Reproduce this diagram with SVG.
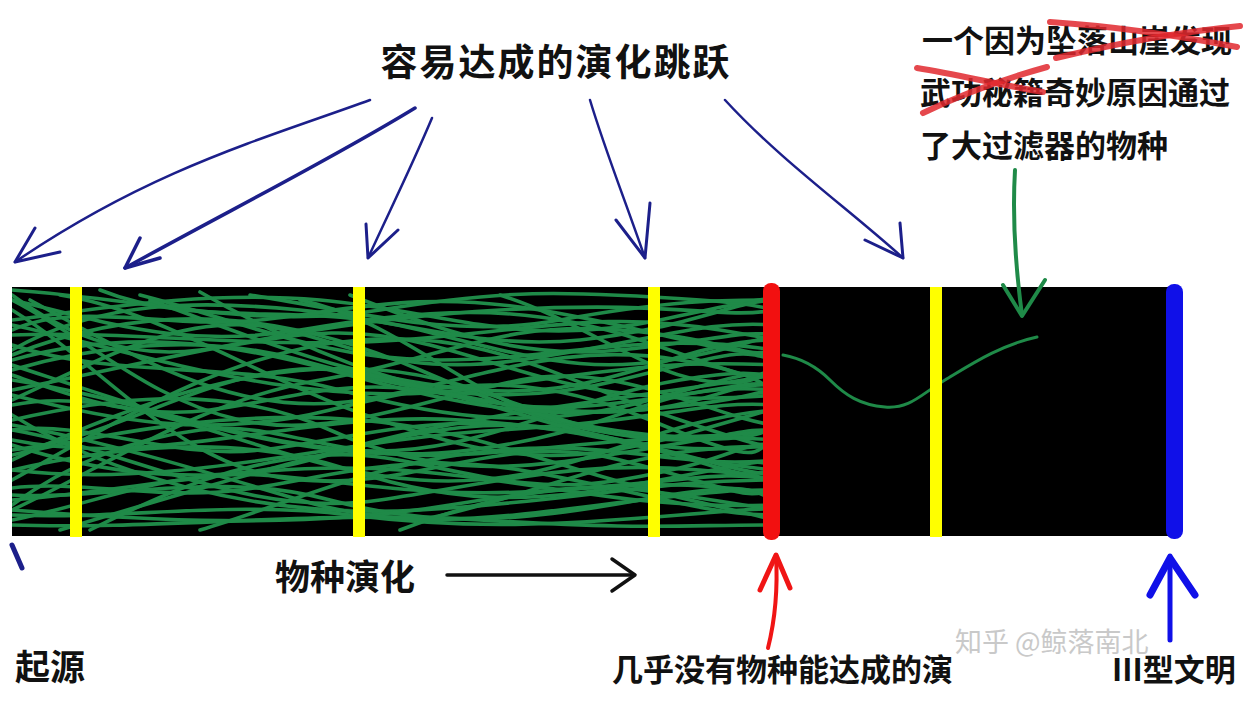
<svg xmlns="http://www.w3.org/2000/svg" width="1251" height="702" viewBox="0 0 1251 702">
<style>
.t{font-family:"Noto Sans CJK SC","Noto Sans",sans-serif;font-weight:bold;fill:#111}
.blue{fill:none;stroke:#1c1f8a;stroke-linecap:round;stroke-linejoin:round}
.g path{fill:none;stroke:#1f8a48;stroke-width:3.6;stroke-linecap:round}
.cross{fill:none;stroke:#e0282e;stroke-width:6;stroke-linecap:round;opacity:0.85}
</style>
<defs>
<clipPath id="bar"><rect x="12" y="287" width="760" height="249"/></clipPath>
</defs>
<rect width="1251" height="702" fill="#fff"/>

<g id="bar-node">
<rect x="12" y="287" width="1166" height="249" fill="#000"/>
<g class="g" clip-path="url(#bar)">
<path d="M12,300 C100,320 180,350 300,330 S520,300 640,340 S740,380 775,370"/>
<path d="M12,320 C90,310 200,290 320,300 S520,350 660,320 S760,300 775,305"/>
<path d="M12,345 C120,380 230,360 340,390 S540,430 650,400 S750,370 775,380"/>
<path d="M12,370 C80,350 190,330 300,360 S500,410 620,380 S740,350 775,360"/>
<path d="M12,395 C110,420 210,440 330,410 S530,370 650,420 S750,450 775,440"/>
<path d="M12,420 C100,400 220,380 330,430 S520,470 640,450 S740,430 775,430"/>
<path d="M12,445 C90,470 200,490 310,460 S500,410 620,440 S730,480 775,470"/>
<path d="M12,470 C100,450 230,430 350,470 S550,500 660,480 S750,460 775,465"/>
<path d="M12,495 C110,500 220,470 330,500 S530,520 640,500 S750,490 775,500"/>
<path d="M12,515 C120,520 230,500 350,515 S560,525 680,515 S760,510 775,512"/>
<path d="M12,290 C150,300 260,330 380,310 S560,290 700,300 S770,330 775,330"/>
<path d="M30,300 C140,360 240,420 360,400 S560,340 680,360 S760,400 775,400"/>
<path d="M12,310 C110,370 180,470 300,480 S500,430 620,460 S740,500 775,490"/>
<path d="M12,510 C100,470 200,400 320,380 S500,320 620,330 S740,360 775,350"/>
<path d="M12,480 C120,420 230,350 360,340 S560,380 680,420 S760,440 775,450"/>
<path d="M60,295 C160,310 260,380 380,420 S560,470 700,430 S765,410 775,415"/>
<path d="M12,430 C130,450 250,520 380,500 S580,460 700,470 S770,490 775,485"/>
<path d="M100,290 C200,330 300,300 420,330 S600,380 720,350 S770,320 775,320"/>
<path d="M12,380 C140,400 230,440 350,450 S560,400 680,380 S765,390 775,395"/>
<path d="M12,455 C120,430 240,410 360,420 S560,470 690,500 S770,520 775,520"/>
<path d="M12,335 C130,330 260,350 400,340 S600,310 720,330 S770,345 775,345"/>
<path d="M140,295 C240,320 320,360 440,360 S640,330 775,350"/>
<path d="M12,500 C140,490 260,460 400,470 S620,510 775,505"/>
<path d="M12,355 C150,300 280,310 420,370 S620,450 775,430"/>
<path d="M12,405 C140,380 270,470 420,480 S640,420 775,410"/>
<path d="M200,530 C300,500 380,460 500,450 S680,470 775,460"/>
<path d="M150,300 C260,340 350,380 480,390 S680,340 775,340"/>
<path d="M12,440 C160,470 300,410 460,420 S660,460 775,470"/>
<path d="M12,365 C150,410 310,470 470,450 S650,380 775,390"/>
<path d="M12,525 C160,530 320,510 480,520 S680,525 775,525"/>
<path d="M250,295 C350,310 450,340 560,320 S720,300 775,300"/>
<path d="M12,415 C100,470 250,520 420,510 S650,480 775,480"/>
<path d="M12,300 C90,340 150,400 240,420 S420,400 520,380 S720,420 775,425"/>
<path d="M350,295 C440,330 520,360 620,350 S740,330 775,335"/>
<path d="M12,470 C180,490 330,440 500,430 S700,400 775,405"/>
<path d="M60,530 C160,500 260,470 380,440 S620,400 775,375"/>
<path d="M12,390 C160,360 320,320 500,310 S720,320 775,310"/>
<path d="M12,510 C140,520 300,530 450,505 S700,480 775,495"/>
<path d="M400,530 C480,500 560,480 640,490 S740,505 775,510"/>
<path d="M12,325 C130,350 300,410 460,390 S660,360 775,365"/>
<path d="M12,460 C140,400 260,360 380,370 S560,440 680,440 S760,420 775,420"/>
<path d="M200,292 C300,350 420,400 560,410 S720,380 775,385"/>
<path d="M12,350 C100,300 200,300 300,310 S480,350 580,340 S740,300 775,300"/>
<path d="M500,295 C580,320 640,370 700,380 S760,370 775,372"/>
<path d="M420,520 C520,500 600,460 700,450 S765,455 775,455"/>
<path d="M12,295 C60,330 120,360 200,350 S330,320 430,345 S600,410 775,395"/>
<path d="M12,488 C80,480 160,500 240,490 S400,450 520,470 S700,515 775,515"/>
<path d="M12,375 C70,395 130,420 210,410 S360,370 470,400 S650,460 775,445"/>
<path d="M12,430 C90,420 170,460 260,450 S430,410 560,430 S720,470 775,475"/>
<path d="M12,520 C90,505 170,470 260,475 S420,500 560,490 S720,470 775,480"/>
<path d="M12,330 C80,300 170,330 260,320 S420,290 540,310 S700,350 775,355"/>
<path d="M90,530 C170,490 240,460 330,455 S500,500 620,480 S740,440 775,445"/>
<path d="M12,400 C100,360 170,320 250,325 S380,380 520,360 S700,320 775,325"/>
<path d="M12,450 C110,440 190,380 290,370 S460,420 600,405 S740,380 775,385"/>
<path d="M12,505 C60,470 120,440 200,430 S330,460 450,455 S650,430 775,440"/>
<path d="M300,300 C400,320 470,400 560,420 S700,440 775,430"/>
<path d="M12,360 C120,330 220,340 330,370 S520,420 640,410 S750,390 775,392"/>
<path d="M12,425 C100,440 200,470 300,500 S480,520 600,505 S740,490 775,490"/>
</g>
<path d="M783,355 C800,358 815,365 830,380 S860,405 885,407 S920,395 945,380 S1000,345 1037,337" fill="none" stroke="#1f8a48" stroke-width="3" stroke-linecap="round"/>
<rect x="70" y="287" width="12" height="250" fill="#ffff00"/>
<rect x="353" y="287" width="12" height="250" fill="#ffff00"/>
<rect x="648" y="287" width="12" height="250" fill="#ffff00"/>
<rect x="930" y="287" width="12" height="250" fill="#ffff00"/>
<rect x="763" y="283" width="17" height="257" rx="8" fill="#f21010"/>
<rect x="1166" y="284" width="17" height="255" rx="8" fill="#1010e8"/>
</g>

<g id="title">
<text class="t" x="556" y="76" font-size="37" text-anchor="middle" letter-spacing="2">容易达成的演化跳跃</text>
</g>

<g id="note">
<text class="t" x="922" y="52" font-size="31">一个因为坠落山崖发现</text>
<text class="t" x="920" y="104" font-size="31">武功秘籍奇妙原因通过</text>
<text class="t" x="920" y="157" font-size="31">了大过滤器的物种</text>
<path class="cross" d="M1056,58 C1110,45 1180,32 1240,26"/>
<path class="cross" d="M1050,22 C1110,26 1180,36 1237,47"/>
<path class="cross" d="M917,68 C960,75 1000,85 1043,92"/>
<path class="cross" d="M923,113 C960,95 1000,80 1047,67"/>
</g>

<g id="labels">
<text class="t" x="275" y="590" font-size="35">物种演化</text>
<text class="t" x="15" y="680" font-size="35">起源</text>
<text class="t" x="612" y="681" font-size="31">几乎没有物种能达成的演</text>
<text class="t" x="1112" y="681" font-size="31">III型文明</text>
<text x="955" y="652" font-size="27" font-family="Noto Sans CJK SC,sans-serif" fill="#c9c9c9">知乎 @鲸落南北</text>
</g>

<g id="connectors">
<path class="blue" stroke-width="2.5" d="M370,100 C260,140 150,170 15,262"/>
<path class="blue" stroke-width="3" d="M35,228 L15,262 L60,252"/>
<path class="blue" stroke-width="3.5" d="M415,108 C330,160 230,210 125,268"/>
<path class="blue" stroke-width="3.5" d="M140,238 L125,268 L160,258"/>
<path class="blue" stroke-width="2.5" d="M432,118 C410,170 390,210 368,258"/>
<path class="blue" stroke-width="3" d="M366,224 L368,258 L398,230"/>
<path class="blue" stroke-width="2.5" d="M590,100 C605,150 625,200 645,258"/>
<path class="blue" stroke-width="3" d="M616,220 L645,258 L650,203"/>
<path class="blue" stroke-width="2.5" d="M725,100 C780,160 850,210 903,258"/>
<path class="blue" stroke-width="3" d="M865,240 L903,258 L900,223"/>
<path class="blue" stroke-width="5" d="M12,545 L22,568"/>
<path fill="none" stroke="#1f8a48" stroke-width="4" stroke-linecap="round" stroke-linejoin="round" d="M1015,170 C1012,220 1016,270 1022,315"/>
<path fill="none" stroke="#1f8a48" stroke-width="4" stroke-linecap="round" stroke-linejoin="round" d="M1003,285 L1022,316 L1045,280"/>
<path fill="none" stroke="#111" stroke-width="3.5" stroke-linecap="round" d="M447,575 L633,575"/>
<path fill="none" stroke="#111" stroke-width="3.5" stroke-linecap="round" stroke-linejoin="round" d="M612,559 L635,575 L612,591"/>
<path fill="none" stroke="#f01515" stroke-width="4" stroke-linecap="round" d="M768,648 C775,620 778,590 776,555"/>
<path fill="none" stroke="#f01515" stroke-width="5" stroke-linecap="round" stroke-linejoin="round" d="M760,590 L776,555 L790,588"/>
<path fill="none" stroke="#1010e8" stroke-width="5" stroke-linecap="round" d="M1170,640 L1170,556"/>
<path fill="none" stroke="#1010e8" stroke-width="7" stroke-linecap="round" stroke-linejoin="round" d="M1150,595 L1170,558 L1195,595"/>
</g>
</svg>
